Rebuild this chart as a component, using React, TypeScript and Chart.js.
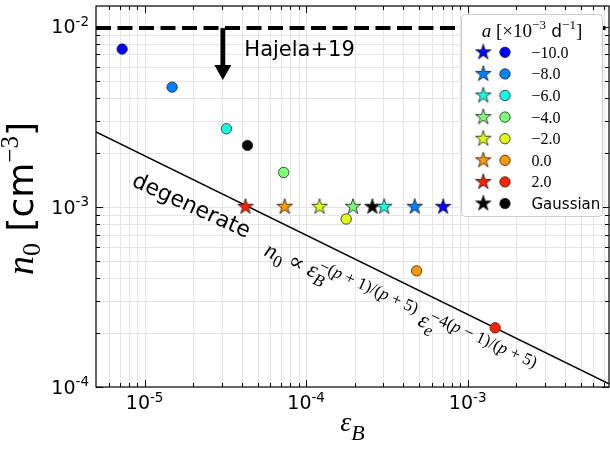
import React, { useEffect, useRef } from 'react';
import { Chart, registerables } from 'chart.js';
Chart.register(...registerables);

// ---------------- data ----------------
const accelLabels = ['−10.0', '−8.0', '−6.0', '−4.0', '−2.0', '0.0', '2.0', 'Gaussian'];
const markerColors = ['#0000ff', '#0080ff', '#15ffe2', '#7bff7b', '#e2ff15', '#ff9700', '#ff2100', '#000000'];
const starEpsB = [7.05e-4, 4.7e-4, 3.04e-4, 1.95e-4, 1.21e-4, 7.36e-5, 4.21e-5, 2.57e-4];
const starN0 = [1e-3, 1e-3, 1e-3, 1e-3, 1e-3, 1e-3, 1e-3, 1e-3];
const circleEpsB = [7.26e-6, 1.48e-5, 3.21e-5, 7.26e-5, 1.77e-4, 4.83e-4, 1.48e-3, 4.33e-5];
const circleN0 = [7.5e-3, 4.61e-3, 2.71e-3, 1.55e-3, 8.55e-4, 4.41e-4, 2.13e-4, 2.19e-3];
const degenerateEpsB = [5e-6, 7.5e-3];
const degenerateN0 = [2.6e-3, 1.04e-4];
const hajelaN0 = 9.8e-3;
const hajelaArrowEpsB = 3.05e-5;
const hajelaArrowTipN0 = 5.05e-3;
const hajelaLabel = 'Hajela+19';
const degenerateLabel = 'degenerate';
const xRange = [5e-6, 7.5e-3];
const yRange = [1e-4, 1.3e-2];
const xTickExps = [-5, -4, -3];
const yTickExps = [-4, -3, -2];

// draw order: Gaussian first so coloured markers sit above it
const drawOrder = [7, 0, 1, 2, 3, 4, 5, 6];

const SERIF = '"Liberation Serif", "DejaVu Serif", serif';
const SANS = '"DejaVu Sans", sans-serif';

function makeStar(fill: string, R = 8.2) {
  const size = 20;
  const c = document.createElement('canvas');
  c.width = size;
  c.height = size;
  const ctx = c.getContext('2d')!;
  const cx = size / 2, cy = size / 2;
  ctx.beginPath();
  for (let k = 0; k < 10; k++) {
    const ang = -Math.PI / 2 + (k * Math.PI) / 5;
    const r = k % 2 === 0 ? R : R * 0.382;
    const px = cx + r * Math.cos(ang);
    const py = cy + r * Math.sin(ang);
    if (k === 0) ctx.moveTo(px, py);
    else ctx.lineTo(px, py);
  }
  ctx.closePath();
  ctx.fillStyle = fill;
  ctx.fill();
  ctx.strokeStyle = '#1a1a1a';
  ctx.lineWidth = 0.8;
  ctx.stroke();
  return c;
}

type Piece = { t: string; f: string; dy?: number; noAdv?: boolean };

function piecesWidth(ctx: CanvasRenderingContext2D, pieces: Piece[]) {
  let w = 0;
  for (const p of pieces) {
    ctx.font = p.f;
    if (!p.noAdv) w += ctx.measureText(p.t).width;
  }
  return w;
}

function drawPieces(ctx: CanvasRenderingContext2D, pieces: Piece[], x: number, y: number, align: 'left' | 'center' | 'right') {
  const w = piecesWidth(ctx, pieces);
  let cx = align === 'left' ? x : align === 'center' ? x - w / 2 : x - w;
  ctx.textAlign = 'left';
  ctx.textBaseline = 'alphabetic';
  for (const p of pieces) {
    ctx.font = p.f;
    ctx.fillText(p.t, cx, y + (p.dy || 0));
    if (!p.noAdv) cx += ctx.measureText(p.t).width;
  }
}

function makeDecorPlugin(starImgs: HTMLCanvasElement[]) {
  return {
    id: 'decor',
    beforeDatasetsDraw(chart: any) {
      const { ctx, chartArea: a, scales } = chart;
      const xs = scales.x, ys = scales.y;
      ctx.save();
      ctx.strokeStyle = '#e5e5e5';
      ctx.lineWidth = 1;
      ctx.beginPath();
      for (let d = -7; d <= 0; d++) {
        for (let m = 1; m <= 9; m++) {
          const v = m * Math.pow(10, d);
          if (v > xRange[0] && v < xRange[1]) {
            const px = Math.round(xs.getPixelForValue(v)) + 0.5;
            ctx.moveTo(px, a.top);
            ctx.lineTo(px, a.bottom);
          }
          if (v > yRange[0] && v < yRange[1]) {
            const py = Math.round(ys.getPixelForValue(v)) + 0.5;
            ctx.moveTo(a.left, py);
            ctx.lineTo(a.right, py);
          }
        }
      }
      ctx.stroke();
      ctx.restore();
    },
    afterDatasetsDraw(chart: any) {
      const { ctx, chartArea: a, scales } = chart;
      const xs = scales.x, ys = scales.y;
      ctx.save();
      ctx.fillStyle = '#000';
      ctx.strokeStyle = '#000';

      // ---- Hajela arrow ----
      const ax = xs.getPixelForValue(hajelaArrowEpsB);
      const ay0 = ys.getPixelForValue(hajelaN0);
      const ay1 = ys.getPixelForValue(hajelaArrowTipN0);
      const headL = 15, headW = 8.5;
      ctx.fillRect(ax - 2.4, ay0, 4.8, ay1 - headL - ay0 + 1);
      ctx.beginPath();
      ctx.moveTo(ax - headW, ay1 - headL);
      ctx.lineTo(ax + headW, ay1 - headL);
      ctx.lineTo(ax, ay1);
      ctx.closePath();
      ctx.fill();
      ctx.font = '21px ' + SANS;
      ctx.textAlign = 'left';
      ctx.textBaseline = 'alphabetic';
      ctx.fillText(hajelaLabel, ax + 21.5, ay0 + 28);

      // ---- degenerate line annotations ----
      const p1x = xs.getPixelForValue(degenerateEpsB[0]);
      const p1y = ys.getPixelForValue(degenerateN0[0]);
      const p2x = xs.getPixelForValue(degenerateEpsB[1]);
      const p2y = ys.getPixelForValue(degenerateN0[1]);
      const slope = (p2y - p1y) / (p2x - p1x);
      const textAng = (24.5 * Math.PI) / 180;
      const lineAt = (px: number) => p1y + slope * (px - p1x);

      ctx.save();
      const dgx = 191;
      ctx.translate(dgx, lineAt(dgx) + 28);
      ctx.rotate(textAng);
      ctx.font = '22px ' + SANS;
      ctx.textAlign = 'center';
      ctx.textBaseline = 'middle';
      ctx.fillText(degenerateLabel, 0, 0);
      ctx.restore();

      const it = (s: number) => `italic ${s}px ${SERIF}`;
      const rm = (s: number) => `${s}px ${SERIF}`;

      ctx.save();
      const fx = 263;
      ctx.translate(fx, lineAt(fx) + 41);
      ctx.rotate(textAng);
      const F = 23, S = 17;
      const up = -9.5, dn = 5.5;
      const formula: Piece[] = [
        { t: 'n', f: it(F) },
        { t: '0', f: rm(S), dy: dn },
        { t: ' ∝ ', f: rm(F) },
        { t: 'ε', f: it(F) },
        { t: 'B', f: it(S), dy: dn, noAdv: true },
        { t: '−(', f: rm(S), dy: up },
        { t: 'p', f: it(S), dy: up },
        { t: ' + 1)/(', f: rm(S), dy: up },
        { t: 'p', f: it(S), dy: up },
        { t: ' + 5)', f: rm(S), dy: up },
        { t: ' ε', f: it(F) },
        { t: 'e', f: it(S), dy: dn, noAdv: true },
        { t: '−4(', f: rm(S), dy: up },
        { t: 'p', f: it(S), dy: up },
        { t: ' − 1)/(', f: rm(S), dy: up },
        { t: 'p', f: it(S), dy: up },
        { t: ' + 5)', f: rm(S), dy: up },
      ];
      drawPieces(ctx, formula, 0, 0, 'left');
      ctx.restore();

      // ---- spines & ticks ----
      ctx.lineWidth = 1.2;
      ctx.strokeRect(a.left, a.top, a.right - a.left, a.bottom - a.top);
      ctx.lineWidth = 1;
      ctx.beginPath();
      for (let d = -7; d <= 0; d++) {
        for (let m = 1; m <= 9; m++) {
          const v = m * Math.pow(10, d);
          const len = m === 1 ? 7 : 4;
          if (v >= xRange[0] && v <= xRange[1]) {
            const px = Math.round(xs.getPixelForValue(v)) + 0.5;
            ctx.moveTo(px, a.bottom);
            ctx.lineTo(px, a.bottom - len);
            ctx.moveTo(px, a.top);
            ctx.lineTo(px, a.top + len);
          }
          if (v >= yRange[0] && v <= yRange[1]) {
            const py = Math.round(ys.getPixelForValue(v)) + 0.5;
            ctx.moveTo(a.left, py);
            ctx.lineTo(a.left + len, py);
            ctx.moveTo(a.right, py);
            ctx.lineTo(a.right - len, py);
          }
        }
      }
      ctx.stroke();

      // ---- tick labels ----
      const tl = (e: number): Piece[] => [
        { t: '10', f: '19px ' + SANS },
        { t: `-${-e}`, f: '13.5px ' + SANS, dy: -7.5 },
      ];
      for (const e of xTickExps) {
        const px = xs.getPixelForValue(Math.pow(10, e));
        drawPieces(ctx, tl(e), px, a.bottom + 22, 'center');
      }
      for (const e of yTickExps) {
        const py = ys.getPixelForValue(Math.pow(10, e));
        drawPieces(ctx, tl(e), a.left - 7, py + 6.8, 'right');
      }

      // ---- axis titles ----
      const xt: Piece[] = [
        { t: 'ε', f: it(28) },
        { t: 'B', f: it(22), dy: 9 },
      ];
      drawPieces(ctx, xt, (a.left + a.right) / 2, 431, 'center');

      ctx.save();
      ctx.translate(33, (a.top + a.bottom) / 2 + 2);
      ctx.rotate(-Math.PI / 2);
      const yt: Piece[] = [
        { t: 'n', f: it(38) },
        { t: '0', f: rm(26), dy: 7 },
        { t: ' [cm', f: '36px ' + SANS },
        { t: '−3', f: rm(25), dy: -15 },
        { t: ']', f: '36px ' + SANS },
      ];
      drawPieces(ctx, yt, 0, 0, 'center');
      ctx.restore();

      // ---- legend ----
      const lx = 461.5, ly = 14.5, lw = 141, lh = 202;
      ctx.beginPath();
      if ((ctx as any).roundRect) (ctx as any).roundRect(lx, ly, lw, lh, 4);
      else ctx.rect(lx, ly, lw, lh);
      ctx.fillStyle = '#ffffff';
      ctx.fill();
      ctx.strokeStyle = '#cccccc';
      ctx.lineWidth = 1;
      ctx.stroke();
      ctx.fillStyle = '#000';
      const title: Piece[] = [
        { t: 'a', f: it(19) },
        { t: ' [×10', f: rm(19) },
        { t: '−3', f: rm(13), dy: -8 },
        { t: ' d', f: '17px ' + SANS },
        { t: '−1', f: rm(13), dy: -8 },
        { t: ']', f: rm(19) },
      ];
      drawPieces(ctx, title, lx + lw / 2, 37, 'center');
      for (let i = 0; i < accelLabels.length; i++) {
        const cy = 52.3 + i * 21.6;
        const img = starImgs[i];
        ctx.drawImage(img, 483.3 - img.width / 2, cy - img.height / 2);
        ctx.beginPath();
        ctx.arc(505, cy, 5.2, 0, Math.PI * 2);
        ctx.fillStyle = markerColors[i];
        ctx.fill();
        ctx.strokeStyle = '#222';
        ctx.lineWidth = 0.8;
        ctx.stroke();
        ctx.fillStyle = '#000';
        ctx.textAlign = 'left';
        ctx.textBaseline = 'alphabetic';
        ctx.font = i === 7 ? '15px ' + SANS : '16px ' + SERIF;
        ctx.fillText(accelLabels[i], 531.5, cy + 5.5);
      }
      ctx.restore();
    },
  };
}

export default function App() {
  const ref = useRef<HTMLCanvasElement>(null);
  useEffect(() => {
    const canvas = ref.current!;
    const starImgs = markerColors.map((c) => makeStar(c));
    const chart = new Chart(canvas, {
      type: 'scatter',
      data: {
        datasets: [
          {
            label: 'stars',
            data: drawOrder.map((i) => ({ x: starEpsB[i], y: starN0[i] })),
            pointStyle: drawOrder.map((i) => starImgs[i]) as any,
            pointRadius: 8,
            order: 1,
          },
          {
            label: 'circles',
            data: drawOrder.map((i) => ({ x: circleEpsB[i], y: circleN0[i] })),
            pointStyle: 'circle',
            pointRadius: 5.2,
            pointBackgroundColor: drawOrder.map((i) => markerColors[i]),
            pointBorderColor: '#222',
            pointBorderWidth: 0.8,
            order: 2,
          },
          {
            label: 'degenerate',
            data: degenerateEpsB.map((x, i) => ({ x, y: degenerateN0[i] })),
            showLine: true,
            borderColor: '#000',
            borderWidth: 1.5,
            pointRadius: 0,
            order: 3,
          },
          {
            label: 'Hajela',
            data: xRange.map((x) => ({ x, y: hajelaN0 })),
            showLine: true,
            borderColor: '#000',
            borderWidth: 4,
            borderDash: [15, 6.5],
            borderCapStyle: 'butt',
            pointRadius: 0,
            order: 4,
          },
        ] as any,
      },
      options: {
        responsive: false,
        animation: false,
        devicePixelRatio: 1,
        layout: { autoPadding: false, padding: { top: 6, right: 1, left: 0, bottom: 0 } },
        plugins: { legend: { display: false }, tooltip: { enabled: false } },
        scales: {
          x: {
            type: 'logarithmic',
            min: xRange[0],
            max: xRange[1],
            grid: { display: false },
            border: { display: false },
            ticks: { display: false },
            afterFit: (s: any) => {
              s.height = 68;
            },
          },
          y: {
            type: 'logarithmic',
            min: yRange[0],
            max: yRange[1],
            grid: { display: false },
            border: { display: false },
            ticks: { display: false },
            afterFit: (s: any) => {
              s.width = 96;
            },
          },
        },
      } as any,
      plugins: [makeDecorPlugin(starImgs) as any],
    });
    return () => chart.destroy();
  }, []);
  return (
    <div style={{ position: 'fixed', left: 0, top: 0, width: 610, height: 455, background: '#fff' }}>
      <canvas ref={ref} width={610} height={455} style={{ display: 'block', width: 610, height: 455 }} />
    </div>
  );
}
